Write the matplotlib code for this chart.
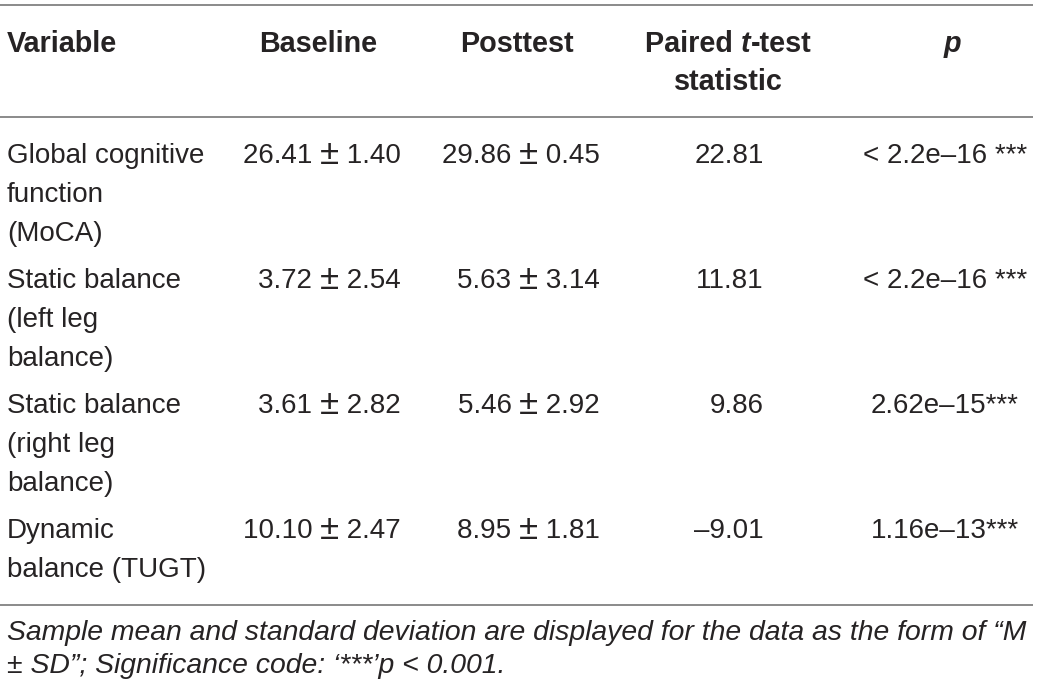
import matplotlib
matplotlib.use("Agg")
import matplotlib.pyplot as plt

# ---------------- data ----------------
columns = ["Variable", "Baseline", "Posttest", "Paired t-test\nstatistic", "p"]
variables = [
    "Global cognitive\nfunction\n(MoCA)",
    "Static balance\n(left leg\nbalance)",
    "Static balance\n(right leg\nbalance)",
    "Dynamic\nbalance (TUGT)",
]
baseline_mean = [26.41, 3.72, 3.61, 10.10]
baseline_sd = [1.40, 2.54, 2.82, 2.47]
post_mean = [29.86, 5.63, 5.46, 8.95]
post_sd = [0.45, 3.14, 2.92, 1.81]
t_stat = [22.81, 11.81, 9.86, -9.01]
p_values = ["< 2.2e\u201316 ***", "< 2.2e\u201316 ***", "2.62e\u201315***", "1.16e\u201313***"]
footnote = [
    "Sample mean and standard deviation are displayed for the data as the form of \u201cM",
    "\u00b1 SD\u201d; Significance code: \u2018***\u2019p < 0.001.",
]

# ---------------- style ----------------
W, H = 1041, 691
TXT = "#262324"
RULE = "#8a8a8a"
FONT = "Liberation Sans"
FS = 20
FSH = 20.7
FS_PM = 25
plt.rcParams["font.family"] = [FONT, "DejaVu Sans"]

fig = plt.figure(figsize=(W / 100, H / 100), dpi=100)
ax = fig.add_axes([0, 0, 1, 1])
ax.set_xlim(0, W)
ax.set_ylim(H, 0)
ax.axis("off")
renderer = fig.canvas.get_renderer()


def width_of(t):
    return t.get_window_extent(renderer).width


def runs(x, y, parts, ha="center"):
    """Draw a line made of runs [(text, size, weight, style, dy)]."""
    objs = []
    for s, fs, w, st, dy in parts:
        objs.append((ax.text(0, y + dy, s, fontsize=fs, fontweight=w, fontstyle=st,
                             color=TXT, ha="left", va="baseline"), dy))
    widths = [width_of(o) for o, _ in objs]
    total = sum(widths)
    if ha == "center":
        x0 = x - total / 2
    elif ha == "right":
        x0 = x - total
    else:
        x0 = x
    for (o, _), wd in zip(objs, widths):
        o.set_x(x0)
        x0 += wd


def pm_runs(x, y, m, sd):
    runs(x, y, [(f"{m:.2f} ", FS, "normal", "normal", 0),
                ("\u00b1", FS_PM, "normal", "normal", 1),
                (f" {sd:.2f}", FS, "normal", "normal", 0)], ha="right")


# rules
for yy in (5, 116.5, 605):
    ax.plot([0, 1033], [yy, yy], color=RULE, lw=1.4, solid_capstyle="butt")

# header
x_var, x_base, x_post, x_t, x_p = 7, 401, 600, 764, 945
hx_base, hx_post, hx_t, hx_p = 318, 517, 728, 952
ax.text(x_var, 52, columns[0], fontsize=FSH, fontweight="bold", color=TXT, va="baseline")
ax.text(hx_base, 52, columns[1], fontsize=FSH, fontweight="bold", color=TXT, ha="center", va="baseline")
ax.text(hx_post, 52, columns[2], fontsize=FSH, fontweight="bold", color=TXT, ha="center", va="baseline")
h1, h2 = columns[3].split("\n")
pre, post = h1.split("t-")
runs(hx_t, 52, [(pre, FSH, "bold", "normal", 0), ("t", FSH, "bold", "italic", 0),
                ("-" + post, FSH, "bold", "normal", 0)])
ax.text(hx_t, 90, h2, fontsize=FSH, fontweight="bold", color=TXT, ha="center", va="baseline")
ax.text(hx_p, 52, columns[4], fontsize=FSH, fontweight="bold", fontstyle="italic",
        color=TXT, ha="center", va="baseline")

# body
LINE = 39
GAP = 47
y = 163
for i, var in enumerate(variables):
    lines = var.split("\n")
    for j, ln in enumerate(lines):
        ax.text(x_var, y + j * LINE, ln, fontsize=FS, color=TXT, va="baseline")
    pm_runs(x_base, y, baseline_mean[i], baseline_sd[i])
    pm_runs(x_post, y, post_mean[i], post_sd[i])
    ax.text(x_t, y, f"{t_stat[i]:.2f}".replace("-", "\u2013"),
            fontsize=FS, color=TXT, ha="right", va="baseline")
    ax.text(x_p, y, p_values[i], fontsize=FS, color=TXT, ha="center", va="baseline")
    y += (len(lines) - 1) * LINE + GAP

# footnote: fit first line to target width
probe = ax.text(0, 0, footnote[0], fontsize=10, fontstyle="italic")
fs_foot = 10 * 1023 / width_of(probe)
probe.remove()
ax.text(7, 640, footnote[0], fontsize=fs_foot, fontstyle="italic", color=TXT, va="baseline")
ax.text(7, 673, footnote[1], fontsize=fs_foot, fontstyle="italic", color=TXT, va="baseline")

fig.savefig("out.png", dpi=100, facecolor="white")
